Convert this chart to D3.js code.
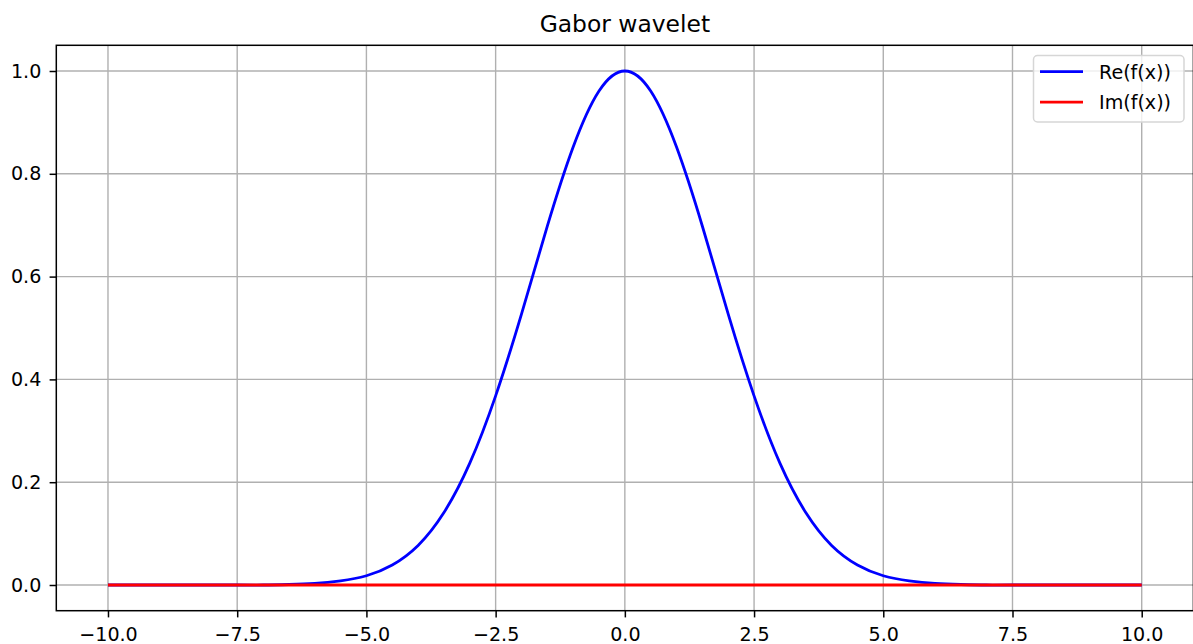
<!DOCTYPE html>
<html>
<head>
<meta charset="utf-8">
<script src="https://cdn.jsdelivr.net/npm/d3@7"></script>
<style>
  html, body { margin: 0; padding: 0; background: #fff; }
  text { font-family: "DejaVu Sans", sans-serif; fill: #000; }
</style>
</head>
<body>
<svg id="chart" width="1193" height="644"></svg>
<script>
// Sample positions along x
const xs = [-10, -9.5, -9, -8.5, -8, -7.5, -7, -6.5, -6, -5.5, -5, -4.5, -4, -3.5, -3, -2.5, -2, -1.5, -1, -0.5,
            0, 0.5, 1, 1.5, 2, 2.5, 3, 3.5, 4, 4.5, 5, 5.5, 6, 6.5, 7, 7.5, 8, 8.5, 9, 9.5, 10];
// Real part of the wavelet
const reValues = [0.000, 0.000, 0.000, 0.000, 0.000, 0.000, 0.000, 0.001, 0.003, 0.008, 0.018, 0.039, 0.077, 0.141, 0.237, 0.368, 0.527, 0.698, 0.852, 0.961,
                  1.000, 0.961, 0.852, 0.698, 0.527, 0.368, 0.237, 0.141, 0.077, 0.039, 0.018, 0.008, 0.003, 0.001, 0.000, 0.000, 0.000, 0.000, 0.000, 0.000, 0.000];
// Imaginary part of the wavelet
const imValues = [0, 0, 0, 0, 0, 0, 0, 0, 0, 0, 0, 0, 0, 0, 0, 0, 0, 0, 0, 0,
                  0, 0, 0, 0, 0, 0, 0, 0, 0, 0, 0, 0, 0, 0, 0, 0, 0, 0, 0, 0, 0];
const xTicks = [-10, -7.5, -5, -2.5, 0, 2.5, 5, 7.5, 10];
const yTicks = [0, 0.2, 0.4, 0.6, 0.8, 1.0];
const seriesNames = ["Re(f(x))", "Im(f(x))"];
const seriesColors = ["#0000ff", "#ff0000"];
const title = "Gabor wavelet";

const svg = d3.select("#chart");
const plot = { left: 56.3, right: 1193.4, top: 45.3, bottom: 610.7 };
const fontSize = 19.1;

const x = d3.scaleLinear().domain([-11, 11]).range([plot.left, plot.right]);
const y = d3.scaleLinear().domain([-0.05, 1.05]).range([plot.bottom, plot.top]);

// Grid
const grid = svg.append("g").attr("stroke", "#b0b0b0").attr("stroke-width", 1.4);
grid.selectAll("line.vx").data(xTicks).join("line")
  .attr("x1", d => x(d)).attr("x2", d => x(d))
  .attr("y1", plot.top).attr("y2", plot.bottom);
grid.selectAll("line.hy").data(yTicks).join("line")
  .attr("x1", plot.left).attr("x2", plot.right)
  .attr("y1", d => y(d)).attr("y2", d => y(d));

// Curves
const series = [reValues, imValues].map((vals, i) => ({
  name: seriesNames[i], color: seriesColors[i],
  points: xs.map((xv, j) => [xv, vals[j]])
}));
const line = d3.line().x(d => x(d[0])).y(d => y(d[1])).curve(d3.curveNatural);
svg.append("g").selectAll("path").data(series).join("path")
  .attr("d", d => line(d.points))
  .attr("fill", "none")
  .attr("stroke", d => d.color)
  .attr("stroke-width", 2.8)
  .attr("stroke-linejoin", "round");

// Axes
const fmt = d3.format(".1f");
const xAxis = svg.append("g")
  .attr("transform", `translate(0,${plot.bottom})`)
  .call(d3.axisBottom(x).tickValues(xTicks).tickFormat(fmt).tickSize(6.7).tickPadding(9.6));
const yAxis = svg.append("g")
  .attr("transform", `translate(${plot.left},0)`)
  .call(d3.axisLeft(y).tickValues(yTicks).tickFormat(fmt).tickSize(6.7).tickPadding(8.3));
[xAxis, yAxis].forEach(a => {
  a.select(".domain").remove();
  a.selectAll(".tick line").attr("stroke", "#000").attr("stroke-width", 1.5);
  a.selectAll(".tick text").attr("font-size", fontSize).attr("font-family", "DejaVu Sans").attr("fill", "#000");
});

// Frame
svg.append("rect")
  .attr("x", plot.left).attr("y", plot.top)
  .attr("width", plot.right - plot.left).attr("height", plot.bottom - plot.top)
  .attr("fill", "none").attr("stroke", "#000").attr("stroke-width", 1.5);

// Title
svg.append("text")
  .attr("x", (plot.left + plot.right) / 2).attr("y", 32)
  .attr("text-anchor", "middle")
  .attr("font-size", 23.4)
  .text(title);

// Legend
const lg = svg.append("g");
lg.append("rect")
  .attr("x", 1033.5).attr("y", 55.5).attr("width", 150.5).attr("height", 66.5)
  .attr("rx", 4).attr("ry", 4)
  .attr("fill", "#fff").attr("fill-opacity", 0.8)
  .attr("stroke", "#d6d6d6").attr("stroke-width", 1.5);
const rows = lg.selectAll("g.row").data(series).join("g")
  .attr("transform", (d, i) => `translate(0,${71.7 + i * 30.4})`);
rows.append("line")
  .attr("x1", 1040).attr("x2", 1083)
  .attr("stroke", d => d.color).attr("stroke-width", 2.8);
rows.append("text")
  .attr("x", 1099).attr("y", 6.8)
  .attr("font-size", fontSize)
  .text(d => d.name);
</script>
</body>
</html>
